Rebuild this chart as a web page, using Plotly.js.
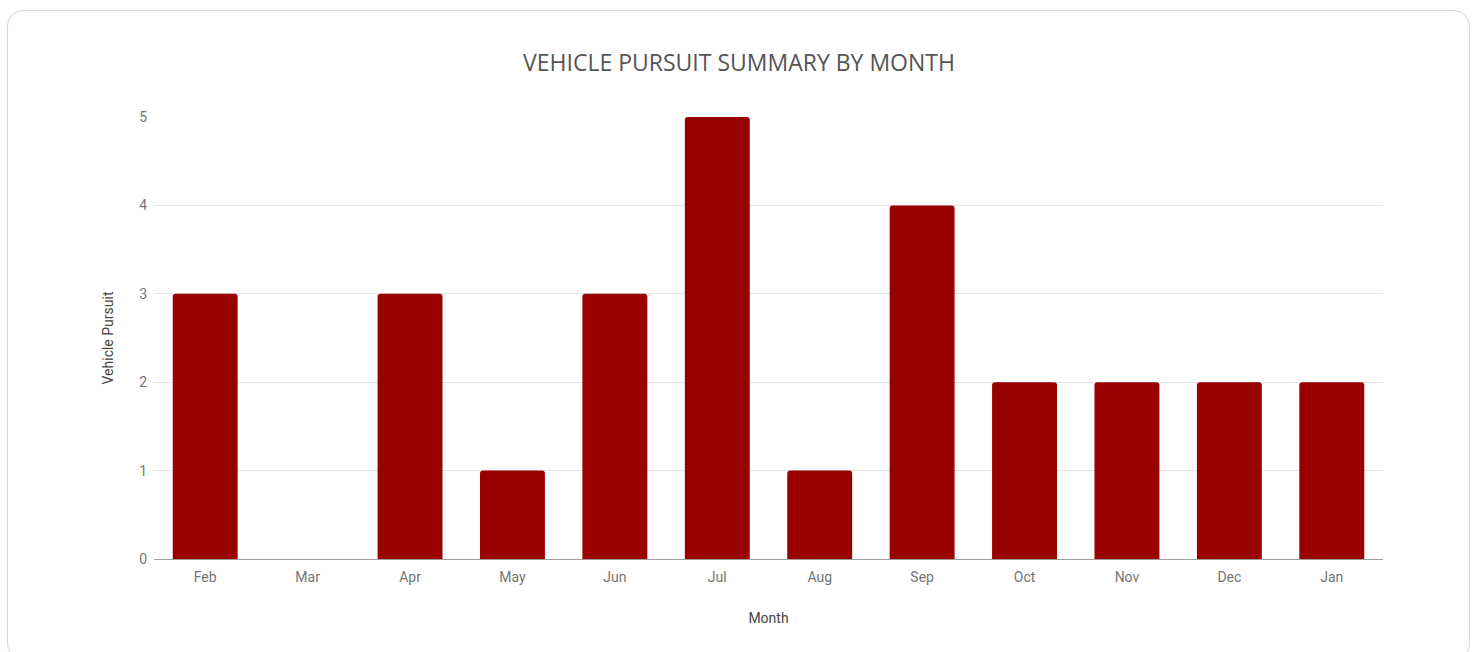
<!DOCTYPE html>
<html>
<head>
<meta charset="utf-8">
<script src="https://cdn.plot.ly/plotly-3.0.1.min.js"></script>
<style>
  html, body { margin: 0; padding: 0; background: #fff; width: 1478px; height: 652px; overflow: hidden; }
  #card { position: absolute; left: 7px; top: 10px; width: 1463px; height: 650px; border: 1px solid #d9d9d9; border-radius: 16px; box-sizing: border-box; }
  #chart { position: absolute; left: 0; top: 0; width: 1478px; height: 652px; }
</style>
</head>
<body>
<div id="card"></div>
<div id="chart"></div>
<script>
const months = ["Feb", "Mar", "Apr", "May", "Jun", "Jul", "Aug", "Sep", "Oct", "Nov", "Dec", "Jan"];
const pursuits = [3, 0, 3, 1, 3, 5, 1, 4, 2, 2, 2, 2];
const yTicks = [0, 1, 2, 3, 4, 5];

const trace = {
  type: "bar",
  x: months,
  y: pursuits,
  marker: { color: "#990000", cornerradius: 3 },
  hoverinfo: "x+y"
};

const layout = {
  width: 1478,
  height: 652,
  paper_bgcolor: "rgba(0,0,0,0)",
  plot_bgcolor: "rgba(0,0,0,0)",
  margin: { l: 154, r: 95, t: 117, b: 93 },
  bargap: 0.366,
  showlegend: false,
  title: {
    text: "VEHICLE PURSUIT SUMMARY BY MONTH",
    font: { family: "Open Sans", size: 23, color: "#555555" },
    x: 0.5, xanchor: "center",
    y: 1 - 63 / 652, yanchor: "middle", yref: "container"
  },
  xaxis: {
    type: "category",
    tickfont: { family: "Roboto", size: 14, color: "#757575" },
    showgrid: false,
    showline: false,
    ticks: "",
    ticklabelstandoff: 8,
    title: { text: "Month", font: { family: "Roboto", size: 14, color: "#444444" }, standoff: 29 }
  },
  yaxis: {
    range: [0, 5],
    tickvals: yTicks,
    ticktext: yTicks.map(String),
    tickfont: { family: "Roboto", size: 14, color: "#757575" },
    gridcolor: "#e3e3e3",
    gridwidth: 1,
    zeroline: true,
    zerolinecolor: "#9e9e9e",
    zerolinewidth: 1,
    ticks: "",
    ticklabelstandoff: 6,
    title: { text: "Vehicle Pursuit", font: { family: "Roboto", size: 14, color: "#444444" }, standoff: 22 }
  }
};

Plotly.newPlot("chart", [trace], layout, { displayModeBar: false, staticPlot: true });
</script>
</body>
</html>
